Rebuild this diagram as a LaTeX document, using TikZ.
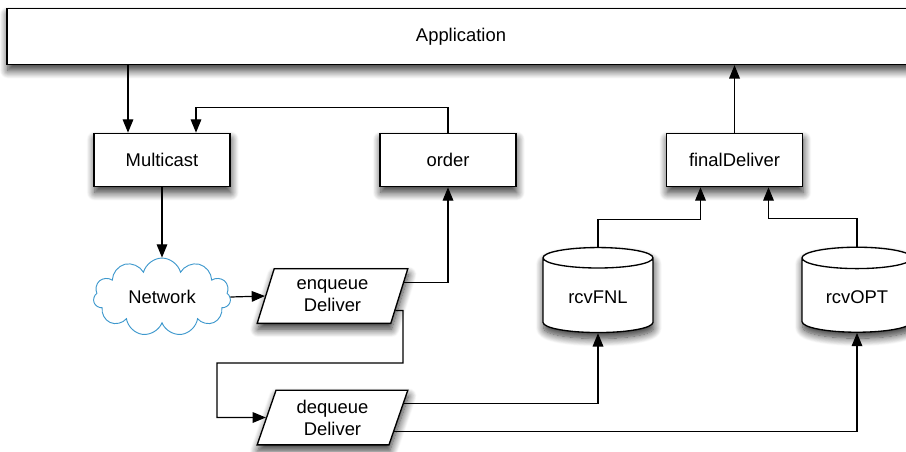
\documentclass[tikz,border=0pt]{standalone}
\usepackage{fontspec}
\setmainfont{Liberation Sans}
\usetikzlibrary{shapes.geometric,shapes.symbols,arrows.meta,calc,shadows.blur}
\definecolor{netblue}{RGB}{62,152,205}

\begin{document}
\begin{tikzpicture}[x=0.75pt, y=0.75pt,
    font=\fontsize{13.8}{16.5}\selectfont,
    >={Triangle[length=10pt,width=8pt]},
    conn/.style={->, line width=0.9pt},
    softshadow/.style={blur shadow={shadow xshift=0.6pt, shadow yshift=-4.5pt, shadow blur radius=6pt, shadow blur steps=12, shadow opacity=80}},
    box/.style={draw, line width=1pt, fill=white, softshadow, minimum width=102pt, minimum height=40pt},
    slanted/.style={draw, line width=1pt, fill=white, softshadow, trapezium, trapezium left angle=62, trapezium right angle=118,
        trapezium stretches body, minimum width=113pt, minimum height=41pt, align=center, inner sep=0pt},
    store/.style={draw, line width=1pt, fill=white, softshadow, cylinder, shape border rotate=90, aspect=0.3,
        minimum width=82.5pt, minimum height=63.75pt}]
    \useasboundingbox (0,-451) rectangle (906,0);
    \clip (0,-451) rectangle (906,0);

    \node[box, minimum width=681pt, minimum height=42pt] (app) at (461,-36.5) {Application};
    \node[box] (mc) at (162,-160) {Multicast};
    \node[box] (ord) at (448,-160) {order};
    \node[box] (fin) at (734.5,-160) {finalDeliver};
    \node[cloud, cloud puffs=11, aspect=1.9, draw=netblue, line width=0.7pt, minimum width=103pt, minimum height=55pt] (net) at (162,-297) {Network};
    \node[slanted] (enq) at (332.5,-296) {enqueue\\Deliver};
    \node[slanted] (deq) at (332.5,-417.5) {dequeue\\Deliver};
    \node[store] (fnl) at (598,-297.5) {rcvFNL};
    \node[store] (opt) at (857,-297.5) {rcvOPT};

    \draw[conn] ([xshift=-25.5pt]mc.north |- app.south) -- ([xshift=-25.5pt]mc.north);
    \draw[conn] (ord.north) -- ++(0,25) -| ([xshift=25.5pt]mc.north);
    \draw[conn] (mc.south) -- (net.north);
    \draw[conn] (net.east) -- (enq.west);
    \draw[conn] ($(enq.top right corner)!.26!(enq.bottom right corner)$) -| (ord.south);
    \draw[conn] ($(enq.top right corner)!.76!(enq.bottom right corner)$) -| (403,-363) -| (217,-417.5) -- (deq.west);
    \draw[conn] ($(deq.top right corner)!.25!(deq.bottom right corner)$) -| (fnl.south);
    \draw[conn] ($(deq.top right corner)!.75!(deq.bottom right corner)$) -| (opt.south);
    \draw[conn] (fnl.north) -- ++(0,27) -| ([xshift=-25.5pt]fin.south);
    \draw[conn] (opt.north) -- ++(0,28) -| ([xshift=25.5pt]fin.south);
    \draw[conn] (fin.north) -- (fin.north |- app.south);
\end{tikzpicture}
\end{document}
